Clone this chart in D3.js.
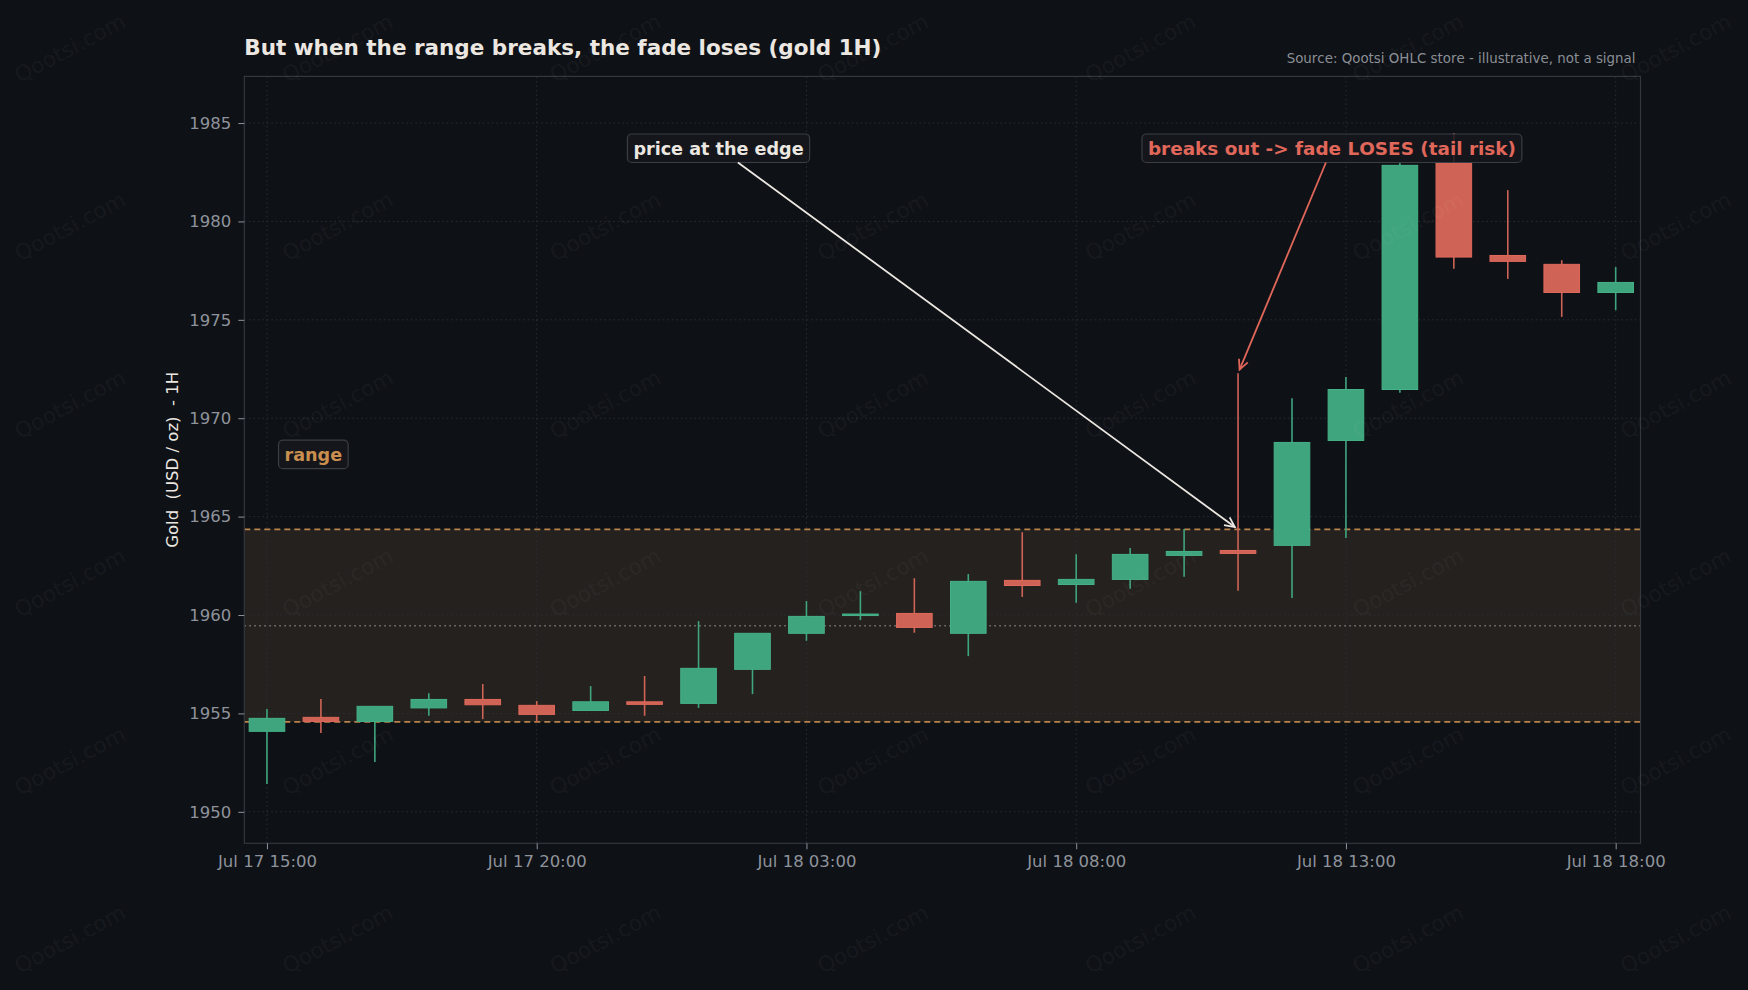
<!DOCTYPE html>
<html>
<head>
<meta charset="utf-8">
<script src="https://cdn.jsdelivr.net/npm/d3@7"></script>
<style>
  html, body { margin: 0; padding: 0; background: #0e1116; }
  svg { display: block; font-family: "DejaVu Sans", sans-serif; font-kerning: none; }
</style>
</head>
<body>
<div id="chart"></div>
<script>
// hourly candles (session gaps skipped on the axis)
const times = [
  'Jul 17 15:00', 'Jul 17 16:00', 'Jul 17 17:00', 'Jul 17 18:00', 'Jul 17 19:00',
  'Jul 17 20:00', 'Jul 17 21:00', 'Jul 17 22:00', 'Jul 18 01:00', 'Jul 18 02:00',
  'Jul 18 03:00', 'Jul 18 04:00', 'Jul 18 05:00', 'Jul 18 06:00', 'Jul 18 07:00',
  'Jul 18 08:00', 'Jul 18 09:00', 'Jul 18 10:00', 'Jul 18 11:00', 'Jul 18 12:00',
  'Jul 18 13:00', 'Jul 18 14:00', 'Jul 18 15:00', 'Jul 18 16:00', 'Jul 18 17:00',
  'Jul 18 18:00'
];
const opens  = [1954.09, 1954.80, 1954.59, 1955.28, 1955.71, 1955.41, 1955.15, 1955.59, 1955.51, 1957.24,
                1959.07, 1959.98, 1960.08, 1959.07, 1961.76, 1961.55, 1961.81, 1963.03, 1963.28, 1963.54,
                1968.87, 1971.46, 1982.95, 1978.27, 1977.82, 1976.39];
const highs  = [1955.22, 1955.73, 1955.38, 1956.03, 1956.49, 1955.63, 1956.39, 1956.90, 1959.69, 1959.07,
                1960.71, 1961.21, 1961.87, 1962.08, 1964.21, 1963.09, 1963.40, 1964.37, 1972.28, 1971.02,
                1972.10, 1982.98, 1984.50, 1981.59, 1978.03, 1977.68];
const lows   = [1951.41, 1954.00, 1952.53, 1954.88, 1954.71, 1954.56, 1955.15, 1954.88, 1955.28, 1955.98,
                1958.69, 1959.74, 1959.10, 1957.91, 1960.92, 1960.62, 1961.33, 1961.94, 1961.23, 1960.87,
                1963.92, 1971.29, 1977.60, 1977.08, 1975.15, 1975.49];
const closes = [1954.75, 1954.59, 1955.36, 1955.71, 1955.44, 1954.95, 1955.59, 1955.46, 1957.29, 1959.07,
                1959.93, 1960.05, 1959.37, 1961.71, 1961.50, 1961.81, 1963.08, 1963.23, 1963.13, 1968.77,
                1971.46, 1982.85, 1978.19, 1977.97, 1976.39, 1976.90];

const yTicks = [1950, 1955, 1960, 1965, 1970, 1975, 1980, 1985];
const xTickIdx = [0, 5, 10, 15, 20, 25];

const rangeLow = 1954.57;
const rangeHigh = 1964.35;
const rangeMid = (rangeLow + rangeHigh) / 2;
const breakoutIdx = 18;

const W = 1748, H = 990;
const margin = { top: 76.4, right: 107.5, bottom: 146.7, left: 244.3 };

const C = {
  bg: '#0e1116',
  grid: '#2a2f37',
  spine: '#33373e',
  tick: '#8e939b',
  text: '#ece8e1',
  green: '#3fa57e',
  greenEdge: '#46b286',
  red: '#cf6456',
  redEdge: '#e0695b',
  band: '#25211e',
  bandLine: '#b8834b',
  mid: '#7d7b77',
  orange: '#c98f4f',
  boxFill: '#15181d',
  boxEdge: '#3a3e45'
};

const candles = times.map((t, i) => ({ i, t, o: opens[i], h: highs[i], l: lows[i], c: closes[i] }));

const svg = d3.select('#chart').append('svg')
  .attr('width', W)
  .attr('height', H);

svg.append('rect').attr('width', W).attr('height', H).attr('fill', C.bg);

const x = d3.scaleLinear().domain([-0.42, 25.46]).range([margin.left, W - margin.right]);
const y = d3.scaleLinear().domain([1948.4, 1987.37]).range([H - margin.bottom, margin.top]);
const step = x(1) - x(0);

// range band
svg.append('rect')
  .attr('x', margin.left)
  .attr('y', y(rangeHigh))
  .attr('width', W - margin.right - margin.left)
  .attr('height', y(rangeLow) - y(rangeHigh))
  .attr('fill', C.band);

// grid
const grid = svg.append('g');
grid.selectAll('.gy').data(yTicks).enter().append('line')
  .attr('x1', margin.left).attr('x2', W - margin.right)
  .attr('y1', d => y(d)).attr('y2', d => y(d))
  .attr('stroke', C.grid).attr('stroke-width', 1).attr('stroke-dasharray', '1.5,3');
grid.selectAll('.gx').data(xTickIdx).enter().append('line')
  .attr('x1', d => x(d)).attr('x2', d => x(d))
  .attr('y1', margin.top).attr('y2', H - margin.bottom)
  .attr('stroke', C.grid).attr('stroke-width', 1).attr('stroke-dasharray', '1.5,3');

// range lines
[rangeHigh, rangeLow].forEach(v => {
  svg.append('line')
    .attr('x1', margin.left).attr('x2', W - margin.right)
    .attr('y1', y(v)).attr('y2', y(v))
    .attr('stroke', C.bandLine).attr('stroke-width', 1.6).attr('stroke-dasharray', '6,4');
});
svg.append('line')
  .attr('x1', margin.left).attr('x2', W - margin.right)
  .attr('y1', y(rangeMid)).attr('y2', y(rangeMid))
  .attr('stroke', C.mid).attr('stroke-width', 1.5).attr('stroke-dasharray', '1.5,3.5');

// candles
const bodyW = step * 0.66;
const cg = svg.append('g').selectAll('g').data(candles).enter().append('g');
cg.append('line')
  .attr('x1', d => x(d.i)).attr('x2', d => x(d.i))
  .attr('y1', d => y(d.h)).attr('y2', d => y(d.l))
  .attr('stroke', d => d.c >= d.o ? C.green : C.red)
  .attr('stroke-width', 1.6);
cg.append('rect')
  .attr('x', d => x(d.i) - bodyW / 2)
  .attr('width', bodyW)
  .attr('y', d => y(Math.max(d.o, d.c)))
  .attr('height', d => Math.max(Math.abs(y(d.o) - y(d.c)), 1.5))
  .attr('fill', d => d.c >= d.o ? C.green : C.red)
  .attr('stroke', d => d.c >= d.o ? C.greenEdge : C.redEdge)
  .attr('stroke-width', 1);

// spines
svg.append('rect')
  .attr('x', margin.left).attr('y', margin.top)
  .attr('width', W - margin.right - margin.left)
  .attr('height', H - margin.bottom - margin.top)
  .attr('fill', 'none').attr('stroke', C.spine).attr('stroke-width', 1.2);

// axes
const yAxis = svg.append('g')
  .attr('transform', `translate(${margin.left},0)`)
  .call(d3.axisLeft(y).tickValues(yTicks).tickFormat(d3.format('d')).tickSize(6).tickPadding(7));
const xAxis = svg.append('g')
  .attr('transform', `translate(0,${H - margin.bottom})`)
  .call(d3.axisBottom(x).tickValues(xTickIdx).tickFormat(i => times[i]).tickSize(6).tickPadding(6));
[yAxis, xAxis].forEach(a => {
  a.select('.domain').remove();
  a.selectAll('line').attr('stroke', C.tick).attr('stroke-width', 1);
  a.selectAll('text')
    .attr('fill', C.tick)
    .style('font-family', '"DejaVu Sans", sans-serif')
    .style('font-size', '16.5px');
});

// axis label
svg.append('text')
  .attr('transform', `translate(178,${(margin.top + H - margin.bottom) / 2}) rotate(-90)`)
  .attr('text-anchor', 'middle')
  .attr('fill', C.text)
  .style('font-size', '16.5px')
  .style('white-space', 'pre')
  .text('Gold  (USD / oz)  - 1H');

// title and source
svg.append('text')
  .attr('x', margin.left).attr('y', 55)
  .attr('fill', C.text)
  .style('font-size', '21.5px').style('font-weight', 'bold')
  .text('But when the range breaks, the fade loses (gold 1H)');
svg.append('text')
  .attr('x', 1635.5).attr('y', 63)
  .attr('text-anchor', 'end')
  .attr('fill', '#8a8e95')
  .style('font-size', '13.4px')
  .text('Source: Qootsi OHLC store - illustrative, not a signal');

// labelled boxes with arrows
function label(text, cx, cy, color, size) {
  const g = svg.append('g');
  const box = g.append('rect');
  const t = g.append('text')
    .attr('x', cx).attr('y', cy).attr('dy', '0.36em')
    .attr('text-anchor', 'middle')
    .attr('fill', color)
    .style('font-size', size + 'px').style('font-weight', 'bold')
    .text(text);
  const w = t.node().getComputedTextLength() + 12;
  const h = 28.5;
  box.attr('x', cx - w / 2).attr('y', cy - h / 2)
    .attr('width', w).attr('height', h)
    .attr('rx', 4.5)
    .attr('fill', C.boxFill).attr('fill-opacity', 0.85)
    .attr('stroke', C.boxEdge).attr('stroke-width', 1.2);
  return { g, cx, cy, w, h };
}

function arrow(lb, tx, ty, color) {
  const dx = tx - lb.cx, dy = ty - lb.cy;
  const s = Math.min(Math.abs((lb.w / 2) / dx), Math.abs((lb.h / 2) / dy));
  const x0 = lb.cx + dx * s, y0 = lb.cy + dy * s;
  const len = Math.hypot(dx, dy);
  const ux = dx / len, uy = dy / len;
  const x1 = tx - ux * 4, y1 = ty - uy * 4;
  const g = svg.append('g').attr('stroke', color).attr('stroke-width', 1.8).attr('fill', 'none');
  g.append('line').attr('x1', x0).attr('y1', y0).attr('x2', x1).attr('y2', y1);
  const hl = 11, ang = Math.PI / 7;
  const back = Math.atan2(-uy, -ux);
  g.append('path')
    .attr('d', `M${x1 + hl * Math.cos(back + ang)},${y1 + hl * Math.sin(back + ang)}L${x1},${y1}L${x1 + hl * Math.cos(back - ang)},${y1 + hl * Math.sin(back - ang)}`)
    .attr('stroke-linejoin', 'miter');
}

const edgeLabel = label('price at the edge', x(8.37), y(1983.72), C.text, 17.6);
arrow(edgeLabel, x(breakoutIdx), y(rangeHigh), C.text);
const lossLabel = label('breaks out -> fade LOSES (tail risk)', x(19.74), y(1983.72), '#e0675a', 18.4);
arrow(lossLabel, x(breakoutIdx), y(highs[breakoutIdx]), '#e0675a');
label('range', x(0.86), y(1968.16), C.orange, 17.6);

// watermark
const wm = svg.append('g').attr('pointer-events', 'none');
for (let r = 0; r < 6; r++) {
  for (let c = 0; c < 7; c++) {
    const px = 70 + c * 267.6, py = 48 + r * 178.2;
    wm.append('text')
      .attr('transform', `translate(${px},${py}) rotate(-28)`)
      .attr('text-anchor', 'middle').attr('dy', '0.35em')
      .attr('fill', '#ffffff').attr('fill-opacity', 0.055)
      .style('font-size', '21.5px')
      .text('Qootsi.com');
  }
}
</script>
</body>
</html>
